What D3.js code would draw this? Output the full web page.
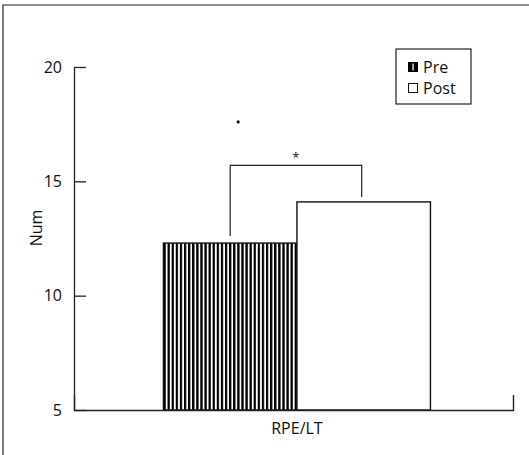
<!DOCTYPE html>
<html>
<head>
<meta charset="utf-8">
<script src="https://cdn.jsdelivr.net/npm/d3@7"></script>
<style>
  body { margin: 0; background: #fff; }
  svg text { font-family: "Open Sans", "Noto Sans", sans-serif; fill: #111; }
</style>
</head>
<body>
<div id="chart"></div>
<script>
// Chart data
const categories = ['RPE/LT'];
const series = ['Pre', 'Post'];
const values = [12.3, 14.1];
const yTicks = [5, 10, 15, 20];
const bracketValue = 15.7;
const dotValue = 17.6;

const width = 529;
const height = 455;

const svg = d3.select('#chart')
    .append('svg')
    .attr('width', width)
    .attr('height', height);

// Hatch pattern for the Pre bar
const defs = svg.append('defs');
const hatch = defs.append('pattern')
    .attr('id', 'hatch')
    .attr('patternUnits', 'userSpaceOnUse')
    .attr('width', 4.1)
    .attr('height', 10);
hatch.append('rect').attr('width', 4.1).attr('height', 10).attr('fill', '#fff');
hatch.append('rect').attr('width', 2.3).attr('height', 10).attr('fill', '#000');

// Outer frame
svg.append('path')
    .attr('d', 'M3,455 L3,5 L529,5')
    .attr('fill', 'none')
    .attr('stroke', '#222')
    .attr('stroke-width', 1.2);

// Scales
const y = d3.scaleLinear().domain([5, 20]).range([410, 67]);
const x = d3.scaleBand()
    .domain(categories)
    .range([74, 513])
    .paddingInner(0)
    .paddingOuter(0.322)
    .align(0.52);
const xs = d3.scaleBand().domain(series).range([0, x.bandwidth()]);

// Y axis
const yAxis = svg.append('g')
    .attr('transform', 'translate(74,0)')
    .call(d3.axisLeft(y).tickValues(yTicks).tickSizeInner(-12).tickSizeOuter(0).tickPadding(12));
yAxis.select('.domain').attr('stroke', '#222').attr('stroke-width', 1.3);
yAxis.selectAll('.tick line').attr('stroke', '#222').attr('stroke-width', 1.3);
yAxis.selectAll('.tick text')
    .attr('font-size', 16)
    .attr('fill', '#111');

// Bars
const group = svg.append('g')
    .attr('transform', `translate(${x(categories[0])},0)`);
group.selectAll('rect')
    .data(series.map((s, i) => ({ s, v: values[i] })))
    .enter()
    .append('rect')
    .attr('x', d => xs(d.s))
    .attr('y', d => y(d.v))
    .attr('width', xs.bandwidth())
    .attr('height', d => y(5) - y(d.v))
    .attr('fill', d => d.s === 'Pre' ? 'url(#hatch)' : '#fff')
    .attr('stroke', '#111')
    .attr('stroke-width', 1.4);

// X axis
const xAxis = svg.append('g')
    .attr('transform', 'translate(0,410)')
    .call(d3.axisBottom(x).tickSizeInner(0).tickSizeOuter(-15).tickPadding(13));
xAxis.select('.domain').attr('stroke', '#222').attr('stroke-width', 1.4);
xAxis.selectAll('.tick text')
    .attr('font-size', 16)
    .attr('fill', '#111');

// Significance bracket
const cx0 = x(categories[0]) + xs('Pre') + xs.bandwidth() / 2;
const cx1 = x(categories[0]) + xs('Post') + xs.bandwidth() / 2 - 2;
svg.append('path')
    .attr('d', `M${cx0},${y(values[0]) - 7} V${y(bracketValue)} H${cx1} V${y(values[1]) - 5}`)
    .attr('fill', 'none')
    .attr('stroke', '#222')
    .attr('stroke-width', 1.2);
svg.append('text')
    .attr('x', (cx0 + cx1) / 2)
    .attr('y', y(bracketValue) - 3)
    .attr('text-anchor', 'middle')
    .attr('font-size', 13)
    .text('*');

// Stray dot above the Pre bar
svg.append('circle')
    .attr('cx', cx0 + 8)
    .attr('cy', y(dotValue))
    .attr('r', 1.6)
    .attr('fill', '#111');

// Y axis title
svg.append('text')
    .attr('transform', 'translate(42,228) rotate(-90)')
    .attr('text-anchor', 'middle')
    .attr('font-size', 16)
    .text('Num');

// Legend
const legend = svg.append('g').attr('transform', 'translate(396,49)');
legend.append('rect')
    .attr('width', 75)
    .attr('height', 55)
    .attr('fill', '#fff')
    .attr('stroke', '#222')
    .attr('stroke-width', 1.2);
series.forEach((s, i) => {
    const row = legend.append('g').attr('transform', `translate(12,${18 + i * 21})`);
    if (s === 'Pre') {
        row.append('rect').attr('x', 0).attr('y', -5).attr('width', 10).attr('height', 10).attr('fill', '#000');
        row.append('rect').attr('x', 4.4).attr('y', -3.5).attr('width', 1.3).attr('height', 7).attr('fill', '#fff');
    } else {
        row.append('rect').attr('x', 0.5).attr('y', -4.5).attr('width', 9).attr('height', 9)
            .attr('fill', '#fff').attr('stroke', '#111').attr('stroke-width', 1);
    }
    row.append('text')
        .attr('x', 15)
        .attr('y', 0)
        .attr('dy', '0.35em')
        .attr('font-size', 16)
        .text(s);
});
</script>
</body>
</html>
